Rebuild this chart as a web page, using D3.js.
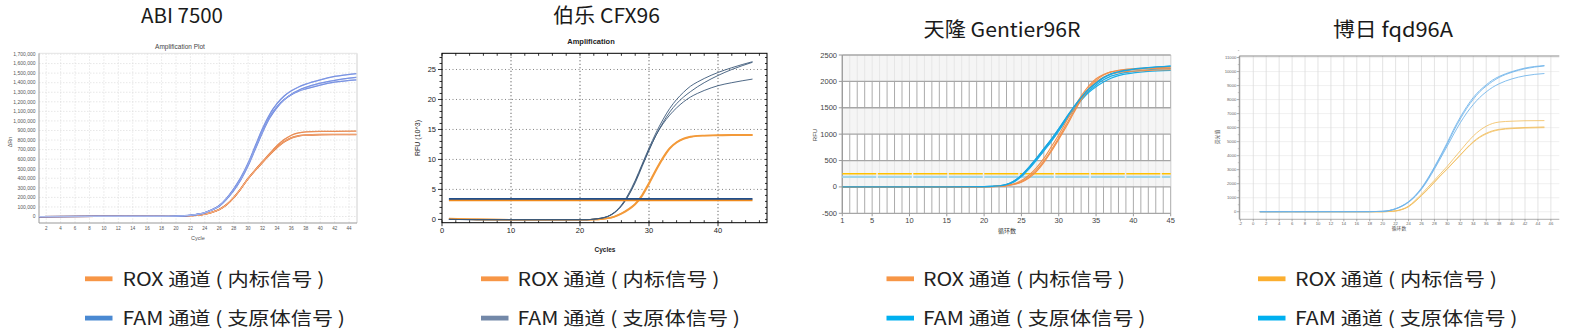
<!DOCTYPE html>
<html>
<head>
<meta charset="utf-8">
<script src="https://cdn.jsdelivr.net/npm/d3@7"></script>
<style>
  body { margin: 0; background: #fff; }
  svg { display: block; font-family: "Liberation Sans", Arial, sans-serif; }
  .ttl { font-family: "Noto Sans CJK SC", "Noto Sans", sans-serif; font-size: 20px; fill: #1a1a1a; }
  .leg { font-family: "Noto Sans CJK SC", sans-serif; font-size: 18px; fill: #222; }
</style>
</head>
<body>
<svg id="chart" width="1569" height="335"></svg>
<script>
// ---- data ----
const panelTitles = ["ABI 7500", "伯乐 CFX96", "天隆 Gentier96R", "博日 fqd96A"];
const legendLabels = ["ROX 通道 ( 内标信号 )", "FAM 通道 ( 支原体信号 )"];

// ABI 7500 (values in thousands of ΔRn)
const abiCycles = [1, 18, 20, 22, 24, 25, 26, 27, 28, 29, 30, 31, 32, 33, 34, 35, 36, 37, 38, 40, 42, 45];
const abiFam1 = [0, 2, 5, 15, 42, 70, 115, 190, 290, 410, 560, 740, 920, 1070, 1180, 1260, 1315, 1355, 1385, 1430, 1465, 1495];
const abiFam2 = [0, 2, 4, 12, 38, 68, 108, 180, 270, 385, 530, 705, 880, 1030, 1140, 1220, 1280, 1320, 1350, 1395, 1425, 1455];
const abiFam3 = [0, 2, 4, 13, 40, 72, 112, 185, 280, 395, 545, 720, 895, 1045, 1150, 1225, 1275, 1310, 1335, 1375, 1405, 1430];
const abiRox1 = [0, 1, 3, 8, 25, 45, 75, 125, 200, 295, 400, 490, 575, 660, 740, 805, 850, 875, 885, 890, 891, 892];
const abiRox2 = [0, 1, 3, 8, 24, 43, 72, 120, 195, 290, 395, 482, 565, 645, 720, 780, 820, 840, 850, 855, 856, 857];
const abiRox3 = [0, 1, 3, 8, 24, 44, 73, 122, 197, 292, 398, 486, 570, 650, 725, 785, 826, 846, 855, 859, 860, 860];
const abiYTicks = [0, 100, 200, 300, 400, 500, 600, 700, 800, 900, 1000, 1100, 1200, 1300, 1400, 1500, 1600, 1700];
const abiXTicks = [2, 4, 6, 8, 10, 12, 14, 16, 18, 20, 22, 24, 26, 28, 30, 32, 34, 36, 38, 40, 42, 44];

// Bio-Rad CFX96 (RFU x10^3)
const cfxCycles = [1, 5, 10, 15, 20, 21, 22, 23, 24, 25, 26, 27, 28, 29, 30, 31, 32, 33, 34, 35, 36, 37, 38, 40, 42, 45];
const cfxFam1 = [0, -0.05, -0.05, -0.05, -0.05, -0.05, 0.05, 0.2, 0.5, 1.2, 2.4, 4.2, 6.5, 9.2, 11.9, 14.4, 16.6, 18.5, 20.0, 21.2, 22.2, 22.9, 23.5, 24.5, 25.3, 26.3];
const cfxFam2 = [0, -0.05, -0.05, -0.05, -0.05, -0.05, 0.04, 0.18, 0.45, 1.1, 2.2, 3.9, 6.1, 8.8, 11.5, 14.0, 16.1, 17.9, 19.3, 20.4, 21.3, 22.1, 22.8, 24.0, 25.0, 26.2];
const cfxFam3 = [0, -0.05, -0.05, -0.05, -0.05, -0.05, 0.05, 0.2, 0.5, 1.15, 2.3, 4.0, 6.3, 9.0, 11.6, 14.0, 15.9, 17.4, 18.6, 19.6, 20.4, 21.0, 21.5, 22.3, 22.8, 23.4];
const cfxRox1 = [0.15, 0.0, -0.05, -0.05, -0.05, -0.05, -0.02, 0.05, 0.2, 0.5, 1.0, 1.7, 2.6, 4.1, 6.1, 8.3, 10.3, 11.9, 12.9, 13.5, 13.8, 13.95, 14.0, 14.05, 14.1, 14.1];
const cfxRox2 = [0.1, 0.0, -0.05, -0.05, -0.05, -0.05, -0.02, 0.04, 0.18, 0.46, 0.95, 1.6, 2.5, 3.9, 5.9, 8.1, 10.1, 11.8, 12.8, 13.4, 13.75, 13.9, 13.95, 14.0, 14.05, 14.05];
const cfxThresholds = [3.4, 3.15];
const cfxYTicks = [0, 5, 10, 15, 20, 25];
const cfxXTicks = [0, 10, 20, 30, 40];

// Tianlong Gentier96R (RFU)
const gtCycles = [1, 15, 20, 22, 23, 24, 25, 26, 27, 28, 29, 30, 31, 32, 33, 34, 35, 36, 37, 38, 40, 42, 45];
const gtRox1 = [0, 0, 3, 12, 25, 50, 100, 190, 320, 490, 700, 930, 1180, 1430, 1670, 1870, 2020, 2120, 2180, 2210, 2240, 2255, 2270];
const gtRox2 = [0, 0, 4, 15, 30, 60, 120, 220, 360, 540, 760, 990, 1240, 1490, 1720, 1910, 2050, 2130, 2180, 2200, 2225, 2240, 2250];
const gtRox3 = [0, 0, 3, 10, 22, 45, 90, 170, 290, 460, 670, 900, 1140, 1400, 1650, 1850, 1990, 2080, 2140, 2170, 2195, 2210, 2220];
const gtFam1 = [0, 0, 5, 20, 45, 110, 220, 370, 540, 720, 900, 1100, 1310, 1510, 1690, 1850, 1970, 2070, 2140, 2180, 2230, 2260, 2290];
const gtFam2 = [0, 0, 5, 18, 42, 100, 205, 350, 515, 690, 870, 1070, 1280, 1480, 1660, 1810, 1930, 2030, 2100, 2140, 2190, 2220, 2240];
const gtFam3 = [0, 0, 4, 17, 40, 95, 195, 340, 505, 680, 860, 1060, 1265, 1460, 1640, 1790, 1900, 1990, 2060, 2110, 2160, 2190, 2210];
const gtThresholds = [250, 190];
const gtYTicks = [-500, 0, 500, 1000, 1500, 2000, 2500];
const gtXTicks = [1, 5, 10, 15, 20, 25, 30, 35, 40, 45];

// Bioer fqd96A (fluorescence)
const fqCycles = [1, 18, 20, 21, 22, 23, 24, 25, 26, 27, 28, 29, 30, 31, 32, 33, 34, 35, 36, 37, 38, 40, 42, 45];
const fqFam1 = [0, 5, 30, 90, 220, 430, 720, 1150, 1700, 2400, 3200, 4050, 4950, 5900, 6750, 7500, 8150, 8650, 9050, 9400, 9650, 10000, 10250, 10430];
const fqFam2 = [0, 5, 28, 85, 210, 410, 700, 1110, 1650, 2340, 3130, 3970, 4850, 5780, 6620, 7380, 8020, 8560, 8960, 9300, 9580, 9950, 10200, 10400];
const fqFam3 = [0, 5, 26, 80, 200, 390, 670, 1070, 1600, 2270, 3040, 3860, 4700, 5550, 6350, 7050, 7650, 8150, 8550, 8880, 9130, 9480, 9700, 9860];
const fqRox1 = [0, 0, 0, 20, 60, 180, 400, 800, 1250, 1750, 2250, 2750, 3250, 3800, 4350, 4900, 5400, 5800, 6100, 6300, 6400, 6460, 6490, 6500];
const fqRox2 = [0, 0, 0, 18, 55, 160, 360, 720, 1150, 1600, 2100, 2600, 3050, 3550, 4050, 4550, 5000, 5350, 5600, 5780, 5880, 5970, 6010, 6050];
const fqRox3 = [0, 0, 0, 18, 55, 160, 370, 740, 1170, 1630, 2120, 2620, 3080, 3560, 4040, 4520, 4950, 5300, 5550, 5730, 5840, 5930, 5970, 6000];
const fqYTicks = [0, 1000, 2000, 3000, 4000, 5000, 6000, 7000, 8000, 9000, 10000, 11000];
const fqXTicks = [-2, 0, 2, 4, 6, 8, 10, 12, 14, 16, 18, 20, 22, 24, 26, 28, 30, 32, 34, 36, 38, 40, 42, 44, 46];

const svg = d3.select("#chart");

function drawCurves(g, x, y, cycles, list, color, width, opacity) {
    const line = d3.line()
        .x((d, i) => x(cycles[i]))
        .y(d => y(d))
        .curve(d3.curveMonotoneX);
    list.forEach(vals => {
        g.append("path")
            .attr("d", line(vals))
            .attr("fill", "none")
            .attr("stroke", color)
            .attr("stroke-width", width)
            .attr("opacity", opacity || 1);
    });
}

function txt(g, x, y, s, size, opts) {
    opts = opts || {};
    const t = g.append("text")
        .attr("x", x).attr("y", y)
        .attr("font-size", size)
        .attr("fill", opts.fill || "#333")
        .attr("text-anchor", opts.anchor || "middle")
        .text(s);
    if (opts.weight) t.attr("font-weight", opts.weight);
    if (opts.family) t.attr("font-family", opts.family);
    if (opts.rotate) t.attr("transform", `rotate(-90,${x},${y})`);
    return t;
}

// ---------- titles ----------
const titlePos = [[182, 22.5, 82], [606.5, 23, 107], [1002, 37.3, 157], [1393, 37.3, 120]];
panelTitles.forEach((t, i) => {
    svg.append("text").attr("class", "ttl")
        .attr("x", titlePos[i][0]).attr("y", titlePos[i][1])
        .attr("text-anchor", "middle")
        .attr("textLength", titlePos[i][2])
        .attr("lengthAdjust", "spacingAndGlyphs")
        .text(t);
});

// ---------- ABI 7500 ----------
(function () {
    const g = svg.append("g");
    const x = d3.scaleLinear().domain([1, 45.1]).range([39, 357]);
    const y = d3.scaleLinear().domain([0, 1700]).range([216.5, 54]);
    const top = 53.3, bottom = 223;
    g.selectAll(".vg").data(abiXTicks).enter().append("line")
        .attr("x1", d => x(d)).attr("x2", d => x(d)).attr("y1", top).attr("y2", bottom)
        .attr("stroke", "#d6d6d6").attr("stroke-width", 0.6).attr("stroke-dasharray", "1.5,1.5");
    g.selectAll(".hg").data(abiYTicks).enter().append("line")
        .attr("x1", 39).attr("x2", 357).attr("y1", d => y(d)).attr("y2", d => y(d))
        .attr("stroke", "#d6d6d6").attr("stroke-width", 0.6).attr("stroke-dasharray", "1.5,1.5");
    g.append("line").attr("x1", 357).attr("x2", 357).attr("y1", top).attr("y2", bottom).attr("stroke", "#d0d0d0");
    g.append("line").attr("x1", 39).attr("x2", 357).attr("y1", top).attr("y2", top).attr("stroke", "#e4e4e4");
    g.append("line").attr("x1", 39).attr("x2", 39).attr("y1", top).attr("y2", bottom).attr("stroke", "#999");
    g.append("line").attr("x1", 39).attr("x2", 357).attr("y1", bottom).attr("y2", bottom).attr("stroke", "#999");
    abiYTicks.forEach(v => txt(g, 35.5, y(v) + 1.8, d3.format(",")(v * 1000), 5, { anchor: "end", fill: "#555" }));
    abiXTicks.forEach(v => txt(g, x(v), 230, v, 4.5, { fill: "#555" }));
    txt(g, 180, 48.5, "Amplification Plot", 6.5, { fill: "#444" });
    txt(g, 198, 239.5, "Cycle", 5.5, { fill: "#555" });
    txt(g, 12, 142, "ΔRn", 5.5, { fill: "#555", rotate: true });
    drawCurves(g, x, y, abiCycles, [abiRox1, abiRox2, abiRox3], "#e3712c", 1.25);
    drawCurves(g, x, y, abiCycles, [abiRox1, abiRox2, abiRox3], "#f9d2b6", 0.35);
    drawCurves(g, x, y, abiCycles, [abiFam1, abiFam2, abiFam3], "#5474da", 1.25);
    drawCurves(g, x, y, abiCycles, [abiFam1, abiFam2, abiFam3], "#d3dcf6", 0.35);
})();

// ---------- CFX96 ----------
(function () {
    const g = svg.append("g");
    const L = 442, R = 767, T = 53.3, B = 222.7;
    const x = d3.scaleLinear().domain([0, 47.1]).range([L, R]);
    const y = d3.scaleLinear().domain([-0.55, 27.7]).range([B, T]);
    cfxXTicks.slice(1).forEach(v => g.append("line").attr("x1", x(v)).attr("x2", x(v)).attr("y1", T).attr("y2", B)
        .attr("stroke", "#111").attr("stroke-width", 0.8).attr("stroke-dasharray", "1,2.5"));
    cfxYTicks.slice(1).forEach(v => g.append("line").attr("x1", L).attr("x2", R).attr("y1", y(v)).attr("y2", y(v))
        .attr("stroke", "#666").attr("stroke-width", 0.8).attr("stroke-dasharray", "1,2.5"));
    g.append("rect").attr("x", L).attr("y", T).attr("width", R - L).attr("height", B - T)
        .attr("fill", "none").attr("stroke", "#000").attr("stroke-width", 1);
    // ticks
    d3.range(0, 28).forEach(v => {
        const len = v % 5 === 0 ? 4 : 2.5;
        g.append("line").attr("x1", L - len).attr("x2", L).attr("y1", y(v)).attr("y2", y(v)).attr("stroke", "#000").attr("stroke-width", 0.8);
        g.append("line").attr("x1", R - 2).attr("x2", R).attr("y1", y(v)).attr("y2", y(v)).attr("stroke", "#000").attr("stroke-width", 0.8);
    });
    d3.range(0, 48, 2).forEach(v => {
        g.append("line").attr("x1", x(v)).attr("x2", x(v)).attr("y1", B - 2.5).attr("y2", B).attr("stroke", "#000").attr("stroke-width", 0.8);
        g.append("line").attr("x1", x(v)).attr("x2", x(v)).attr("y1", T).attr("y2", T + 2.5).attr("stroke", "#000").attr("stroke-width", 0.8);
    });
    cfxXTicks.forEach(v => g.append("line").attr("x1", x(v)).attr("x2", x(v)).attr("y1", B).attr("y2", B + 3.5).attr("stroke", "#000").attr("stroke-width", 0.8));
    cfxYTicks.forEach(v => txt(g, 436, y(v) + 2.6, v, 7.5, { anchor: "end", fill: "#222" }));
    cfxXTicks.forEach(v => txt(g, x(v), 233, v, 7.5, { fill: "#222" }));
    txt(g, 591, 44, "Amplification", 7.5, { weight: "bold", fill: "#222" });
    txt(g, 605, 252, "Cycles", 6.5, { weight: "bold", fill: "#222" });
    txt(g, 420, 138, "RFU (10^3)", 7, { fill: "#222", rotate: true });
    drawCurves(g, x, y, cfxCycles, [cfxRox1, cfxRox2], "#f39a3a", 1.6);
    drawCurves(g, x, y, cfxCycles, [cfxFam1, cfxFam2, cfxFam3], "#3b5878", 0.9);
    g.append("line").attr("x1", x(1)).attr("x2", x(45)).attr("y1", y(cfxThresholds[0])).attr("y2", y(cfxThresholds[0]))
        .attr("stroke", "#1f4e8c").attr("stroke-width", 1.8);
    g.append("line").attr("x1", x(1)).attr("x2", x(45)).attr("y1", y(cfxThresholds[1])).attr("y2", y(cfxThresholds[1]))
        .attr("stroke", "#f08a1c").attr("stroke-width", 1.6);
})();

// ---------- Gentier96R ----------
(function () {
    const g = svg.append("g");
    const L = 842.3, R = 1170.7, T = 55, B = 213.3;
    const x = d3.scaleLinear().domain([1, 45]).range([L, R]);
    const y = d3.scaleLinear().domain([-500, 2500]).range([B, T]);
    d3.range(1, 46).forEach(c => g.append("line").attr("x1", x(c)).attr("x2", x(c)).attr("y1", T).attr("y2", B)
        .attr("stroke", "#ababab").attr("stroke-width", 1));
    [[2000, 2500], [1000, 1500], [0, 500]].forEach(b => g.append("rect")
        .attr("x", L).attr("y", y(b[1])).attr("width", R - L).attr("height", y(b[0]) - y(b[1]))
        .attr("fill", "#f3f3f3").attr("opacity", 0.82));
    gtYTicks.forEach(v => g.append("line").attr("x1", L).attr("x2", R).attr("y1", y(v)).attr("y2", y(v))
        .attr("stroke", "#a6a6a6").attr("stroke-width", 1.3));
    g.append("line").attr("x1", L).attr("x2", L).attr("y1", T).attr("y2", B).attr("stroke", "#999").attr("stroke-width", 1.2);
    gtYTicks.forEach(v => g.append("line").attr("x1", L - 3.5).attr("x2", L).attr("y1", y(v)).attr("y2", y(v)).attr("stroke", "#999"));
    gtXTicks.forEach(v => g.append("line").attr("x1", x(v)).attr("x2", x(v)).attr("y1", B).attr("y2", B + 3).attr("stroke", "#999"));
    gtYTicks.forEach(v => txt(g, 837, y(v) + 2.5, v, 7.5, { anchor: "end", fill: "#444" }));
    gtXTicks.forEach(v => txt(g, x(v), 222.5, v, 7.5, { fill: "#444" }));
    txt(g, 817, 135, "RFU", 6, { fill: "#444", rotate: true });
    txt(g, 1007, 232.5, "循环数", 6, { fill: "#333", family: "Noto Sans CJK SC" });
    g.append("line").attr("x1", x(1)).attr("x2", x(45)).attr("y1", y(gtThresholds[0])).attr("y2", y(gtThresholds[0]))
        .attr("stroke", "#ffc000").attr("stroke-width", 1.3).attr("stroke-dasharray", "34,1.5");
    g.append("line").attr("x1", x(1)).attr("x2", x(45)).attr("y1", y(gtThresholds[1])).attr("y2", y(gtThresholds[1]))
        .attr("stroke", "#a4d6ea").attr("stroke-width", 2.2).attr("stroke-dasharray", "34,1.5");
    drawCurves(g, x, y, gtCycles, [gtFam1, gtFam2, gtFam3], "#1eaee6", 1.2);
    drawCurves(g, x, y, gtCycles, [gtRox1, gtRox2, gtRox3], "#f0904c", 1.15);
    drawCurves(g, x, y, gtCycles, [gtFam1], "#1aa6e2", 1.4);
})();

// ---------- fqd96A ----------
(function () {
    const g = svg.append("g");
    const L = 1239.3, R = 1559.3, T = 56, B = 219.3;
    const x = d3.scaleLinear().domain([-2.16, 47.3]).range([L, R]);
    const y = d3.scaleLinear().domain([-540, 11110]).range([B, T]);
    fqYTicks.forEach(v => g.append("line").attr("x1", L).attr("x2", R).attr("y1", y(v)).attr("y2", y(v))
        .attr("stroke", "#ececec").attr("stroke-width", 0.8));
    fqXTicks.forEach(v => g.append("line").attr("x1", x(v)).attr("x2", x(v)).attr("y1", T).attr("y2", B)
        .attr("stroke", "#dcdcdc").attr("stroke-width", 0.8));
    g.append("line").attr("x1", L).attr("x2", R).attr("y1", T).attr("y2", T).attr("stroke", "#8a8a8a").attr("stroke-width", 1);
    g.append("line").attr("x1", L).attr("x2", L).attr("y1", T).attr("y2", B).attr("stroke", "#8a8a8a").attr("stroke-width", 1);
    g.append("line").attr("x1", L).attr("x2", R).attr("y1", B).attr("y2", B).attr("stroke", "#9a9a9a").attr("stroke-width", 0.8);
    fqYTicks.forEach(v => {
        g.append("line").attr("x1", L - 2.5).attr("x2", L).attr("y1", y(v)).attr("y2", y(v)).attr("stroke", "#777").attr("stroke-width", 0.6);
        g.append("line").attr("x1", L - 1.5).attr("x2", L).attr("y1", y(v + 500)).attr("y2", y(v + 500)).attr("stroke", "#999").attr("stroke-width", 0.5);
        txt(g, L - 3, y(v) + 1.5, v, 4.2, { anchor: "end", fill: "#666" });
    });
    fqXTicks.forEach(v => {
        g.append("line").attr("x1", x(v)).attr("x2", x(v)).attr("y1", B).attr("y2", B + 2).attr("stroke", "#777").attr("stroke-width", 0.6);
        txt(g, x(v), 224.5, v, 4.2, { fill: "#666" });
    });
    txt(g, 1218.5, 137, "荧光值", 4.8, { fill: "#555", rotate: true, family: "Noto Sans CJK SC" });
    txt(g, 1399, 229.5, "循环数", 4.8, { fill: "#555", family: "Noto Sans CJK SC" });
    drawCurves(g, x, y, fqCycles, [fqRox1, fqRox2, fqRox3], "#f2c062", 1, 0.85);
    drawCurves(g, x, y, fqCycles, [fqFam1, fqFam2, fqFam3], "#6db3ea", 1, 0.85);
})();

// ---------- legends ----------
const legendX = [[85, 122.5], [481, 517.5], [886.5, 923], [1258, 1295]];
const legendColors = [
    ["#f79646", "#4a89d2"],
    ["#f79646", "#7388a8"],
    ["#f79646", "#00b0f0"],
    ["#fbae2f", "#00b0f0"]
];
const legendRowY = [285.7, 325];
const legendWidths = [202, 222.5];
legendX.forEach((p, i) => {
    legendLabels.forEach((lab, j) => {
        svg.append("rect")
            .attr("x", p[0]).attr("y", legendRowY[j] - 9.3)
            .attr("width", 27.5).attr("height", 4.8)
            .attr("fill", legendColors[i][j]);
        svg.append("text").attr("class", "leg")
            .attr("x", p[1]).attr("y", legendRowY[j])
            .attr("textLength", legendWidths[j])
            .attr("lengthAdjust", "spacingAndGlyphs")
            .text(lab);
    });
});
</script>
</body>
</html>
